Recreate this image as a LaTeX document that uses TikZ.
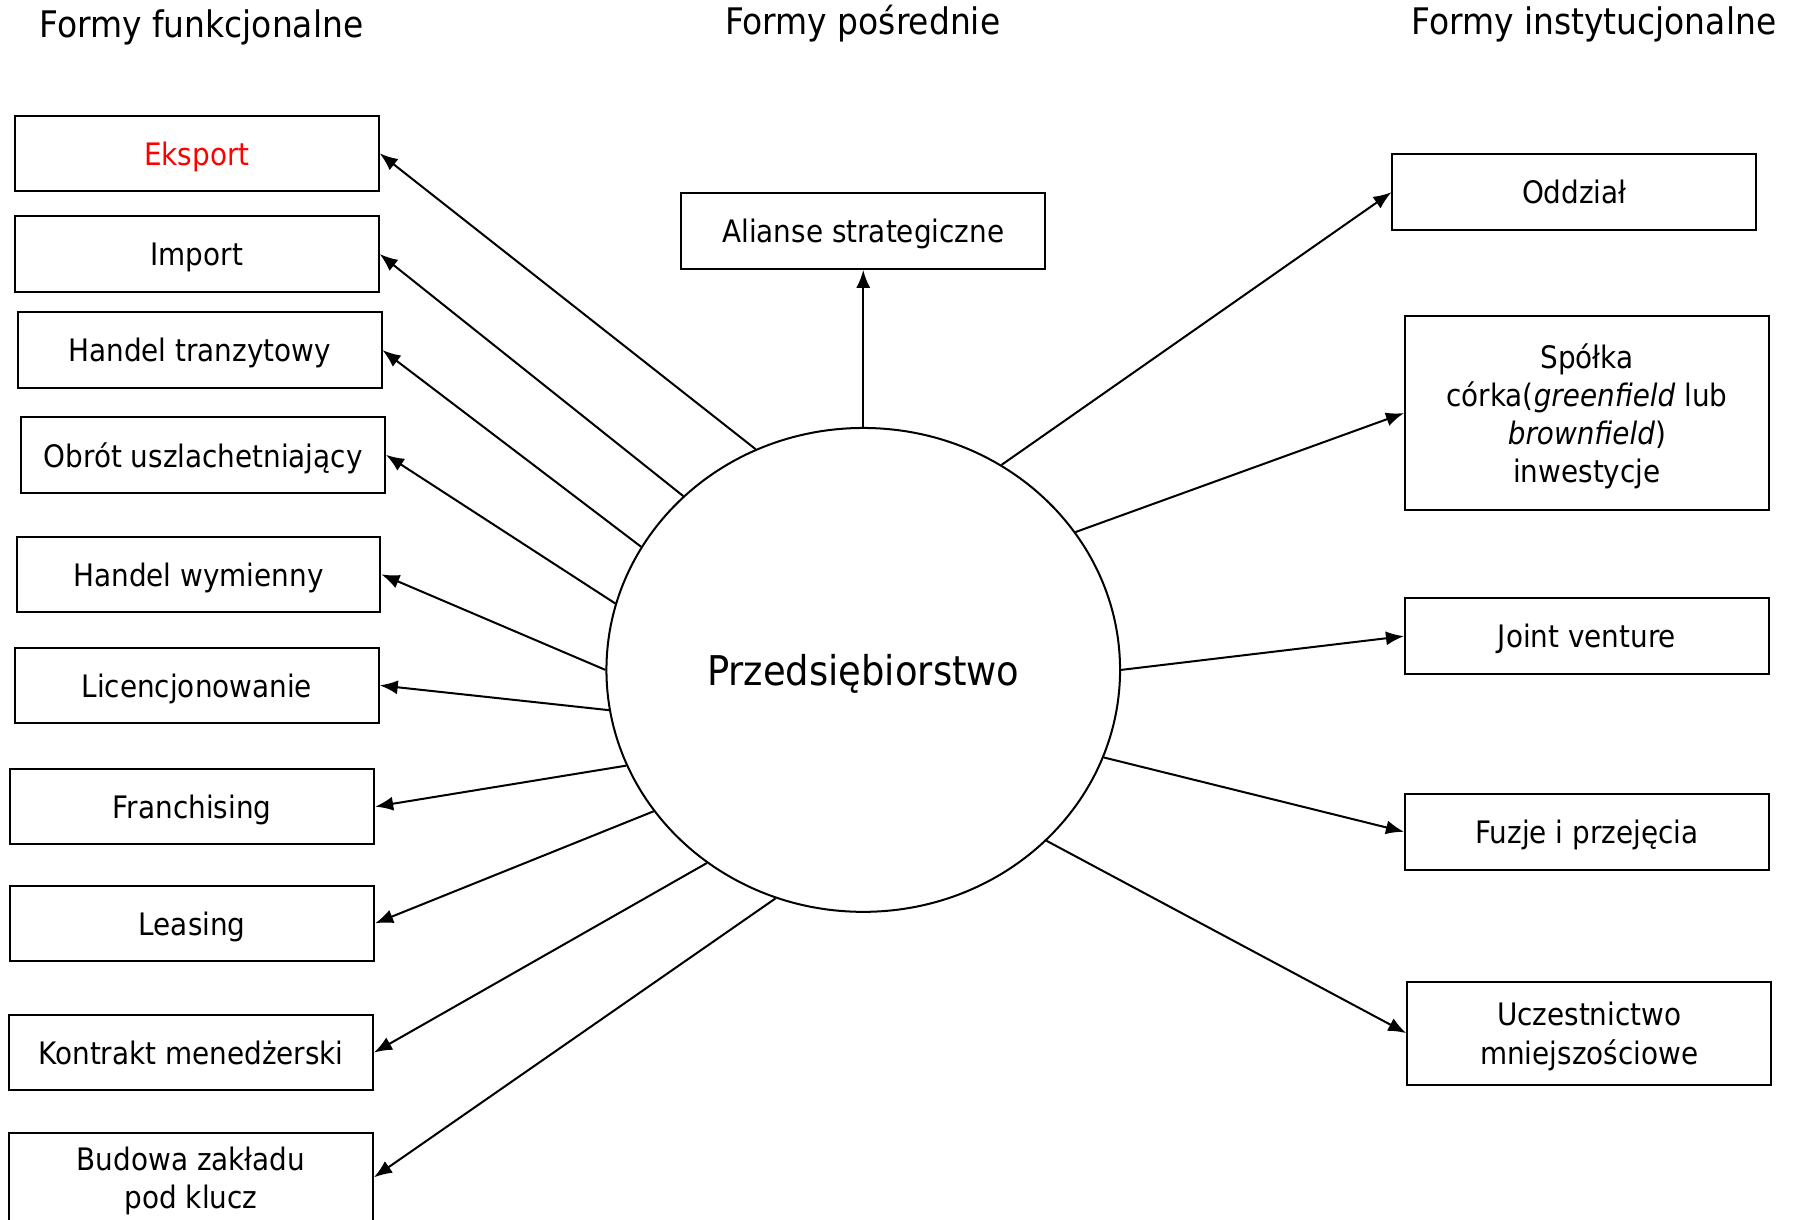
\documentclass[tikz,border=0pt]{standalone}
\usepackage{fontspec}
\setmainfont{DejaVu Sans}[FakeStretch=0.9]
\usetikzlibrary{arrows.meta,shapes.geometric}

\tikzset{
  forma/.style={draw, line width=1pt, minimum width=6.36cm, minimum height=1.32cm,
                inner sep=2pt, text depth=0pt, align=center, font=\fontsize{15.4}{19}\selectfont},
  tytul/.style={font=\fontsize{18.2}{21}\selectfont},
  strz/.style={-{Latex[length=9pt,width=7pt]}, line width=1pt},
}

\begin{document}
\begin{tikzpicture}[x=0.02cm,y=-0.02cm]
\useasboundingbox (0,0) rectangle (1568,1066);

% naglowki
\node[tytul] (tf) at (176,24) {Formy funkcjonalne};
\node[tytul] (tp) at (754,21) {Formy pośrednie};
\node[tytul] (ti) at (1393,21) {Formy instytucjonalne};

% srodek
\node[ellipse, draw, line width=1pt, minimum width=8.98cm, minimum height=8.46cm,
      inner sep=0pt, text depth=0pt, font=\fontsize{20.4}{24}\selectfont] (P) at (754.5,585.5) {Przedsiębiorstwo};

% formy funkcjonalne
\node[forma, text=red] (eks) at (172,134)   {Eksport};
\node[forma] (imp) at (172,222)   {Import};
\node[forma] (tra) at (174.5,306) {Handel tranzytowy};
\node[forma] (obr) at (177.5,397.5) {Obrót uszlachetniający};
\node[forma] (wym) at (173.5,502) {Handel wymienny};
\node[forma] (lic) at (172,599)   {Licencjonowanie};
\node[forma] (fra) at (168,705)   {Franchising};
\node[forma] (lea) at (168,807)   {Leasing};
\node[forma] (kon) at (167,920)   {Kontrakt menedżerski};
\node[forma, minimum height=1.56cm] (bud) at (167,1029) {Budowa zakładu\\pod klucz};

% formy posrednie
\node[forma] (ali) at (754.5,202) {Alianse strategiczne};

% formy instytucjonalne
\node[forma] (odd) at (1376,168) {Oddział};
\node[forma, minimum height=3.4cm] (spo) at (1387,361)
  {Spółka\\córka(\textit{greenfield} lub\\\textit{brownfield})\\inwestycje};
\node[forma] (jv)  at (1387,556) {Joint venture};
\node[forma] (fuz) at (1387,727) {Fuzje i przejęcia};
\node[forma, minimum height=1.8cm] (ucz) at (1389,903) {Uczestnictwo\\mniejszościowe};

% strzalki
\draw[strz] (P.116.1) -- (eks.east);
\draw[strz] (P.136.5) -- (imp.east);
\draw[strz] (P.151.7) -- (tra.east);
\draw[strz] (P.165.8) -- (obr.east);
\draw[strz] (P.180)   -- (wym.east);
\draw[strz] (P.189)   -- (lic.east);
\draw[strz] (P.202.4) -- (fra.east);
\draw[strz] (P.214.9) -- (lea.east);
\draw[strz] (P.231.3) -- (kon.east);
\draw[strz] (P.249.1) -- (bud.east);
\draw[strz] (P.north) -- (ali.south);
\draw[strz] (P.56.7)  -- (odd.west);
\draw[strz] (P.33.4)  -- (spo.west);
\draw[strz] (P.east)  -- (jv.west);
\draw[strz] (P.-20.4) -- (fuz.west);
\draw[strz] (P.-43.2) -- (ucz.west);
\end{tikzpicture}
\end{document}
